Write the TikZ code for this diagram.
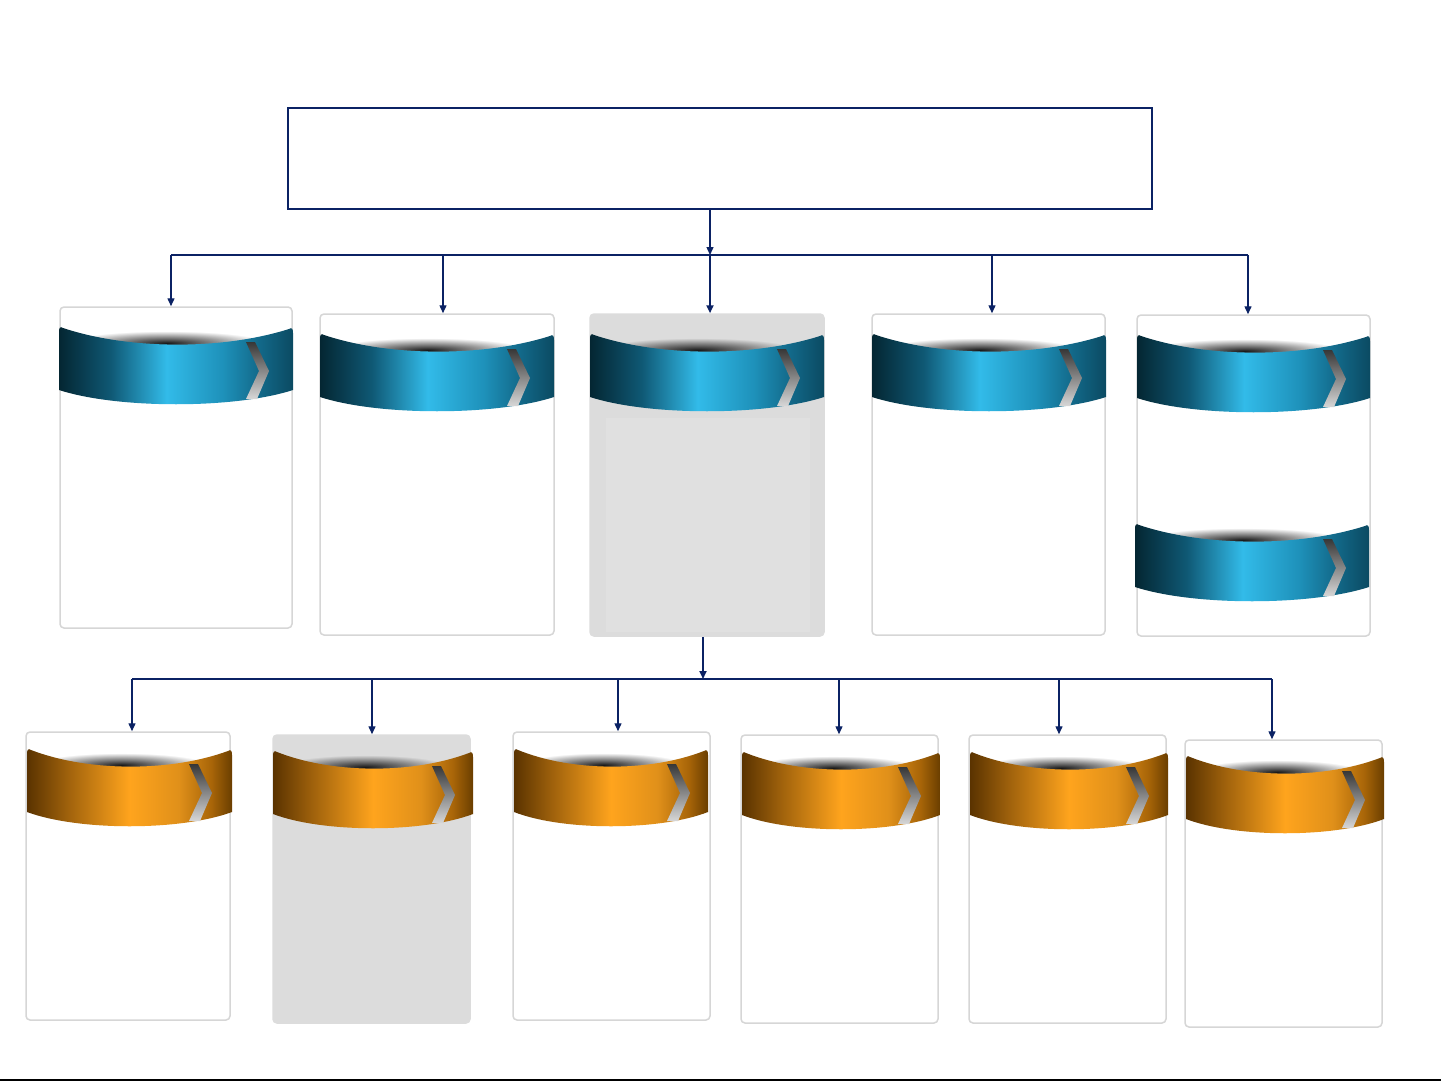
\documentclass[tikz,border=0pt]{standalone}
\usetikzlibrary{arrows.meta,fit,fadings,calc}
\definecolor{navy}{RGB}{11,34,100}
\definecolor{cardgray}{RGB}{220,220,220}
\definecolor{innergray}{RGB}{224,224,224}
\definecolor{cardline}{RGB}{214,214,214}
\definecolor{bl0}{RGB}{4,38,50}
\definecolor{bl1}{RGB}{15,88,116}
\definecolor{bl2}{RGB}{50,187,233}
\definecolor{bl3}{RGB}{30,145,186}
\definecolor{bl4}{RGB}{18,104,136}
\definecolor{bl5}{RGB}{11,74,98}
\definecolor{or0}{RGB}{90,51,0}
\definecolor{or1}{RGB}{160,98,12}
\definecolor{or2}{RGB}{255,164,29}
\definecolor{or3}{RGB}{224,144,26}
\definecolor{or4}{RGB}{168,101,8}
\definecolor{or5}{RGB}{106,62,0}
\definecolor{cvtop}{RGB}{55,55,55}
\definecolor{cvbot}{RGB}{215,215,215}
\pgfdeclarehorizontalshading{bluerib}{100bp}{color(0bp)=(bl0); color(25bp)=(bl0); color(36bp)=(bl1); color(48bp)=(bl2); color(60bp)=(bl3); color(68bp)=(bl4); color(75bp)=(bl5); color(100bp)=(bl5)}
\pgfdeclarehorizontalshading{orangerib}{100bp}{color(0bp)=(or0); color(25bp)=(or0); color(35bp)=(or1); color(50bp)=(or2); color(62bp)=(or3); color(70bp)=(or4); color(75bp)=(or5); color(100bp)=(or5)}
\tikzfading[name=shfade, inner color=transparent!0, outer color=transparent!100]
\tikzset{
  card/.style={draw=cardline, line width=0.75pt, rounded corners=2pt, fill=white, inner sep=0pt},
  graycard/.style={card, fill=cardgray, draw=cardgray},
  topbox/.style={draw=navy, line width=1.25pt, fill=white, inner sep=0pt},
  conn/.style={draw=navy, line width=0.7pt},
  busb/.style={draw=navy, line width=0.9pt},
  arr/.style={-{Triangle[length=4pt,width=3.5pt]}},
}
% L R t shading chevron-offset
\newcommand\myrib[5]{%
  \pgfmathsetmacro\rw{#2-#1}%
  \pgfmathsetmacro\rx{0.21*\rw}%
  \fill[black!90, path fading=shfade] ({#1+0.46*\rw},{#3+17}) ellipse [x radius=\rx pt, y radius=6pt];
  \path[shading=#4] (#1,{#3+6}) .. controls (#1,{#3+2}) and ({#1+1},{#3}) .. ({#1+4},{#3+2})
     .. controls ({#1+0.3*\rw},{#3+24}) and ({#2-0.3*\rw},{#3+24}) .. ({#2-4},{#3+3})
     .. controls ({#2-1},{#3+1}) and (#2,{#3+3}) .. (#2,{#3+7})
     -- (#2,{#3+64})
     .. controls ({#2-0.25*\rw},{#3+83}) and ({#1+0.25*\rw},{#3+83}) .. (#1,{#3+64}) -- cycle;
  \shade[top color=cvtop, bottom color=cvbot] ({#2-#5},{#3+16}) -- ({#2-#5+9},{#3+16}) -- ({#2-#5+23},{#3+45})
     -- ({#2-#5+11},{#3+73}) -- ({#2-#5},{#3+73}) -- ({#2-#5+13},{#3+45}) -- cycle;
}
\begin{document}
\begin{tikzpicture}[x=0.5pt,y=-0.5pt]
\fill[white] (0,0) rectangle (1441,1081);
\useasboundingbox (0,0) rectangle (1441,1081);

% top box
\node[topbox, fit={(288,108) (1152,209)}] (top) {};

% top row cards
\node[card, fit={(60,307) (292,628)}] (c1) {};
\node[card, fit={(320,314) (554,635)}] (c2) {};
\node[graycard, fit={(590,314) (824,636)}] (c3) {};
\node[card, fit={(872,314) (1105,635)}] (c4) {};
\node[card, fit={(1137,315) (1370,636)}] (c5) {};
\fill[innergray] (606,418) rectangle (810,632);

% bottom row cards
\node[card, fit={(26,732) (230,1020)}] (d1) {};
\node[graycard, fit={(273,735) (470,1023)}] (d2) {};
\node[card, fit={(513,732) (710,1020)}] (d3) {};
\node[card, fit={(741,735) (938,1023)}] (d4) {};
\node[card, fit={(969,735) (1166,1023)}] (d5) {};
\node[card, fit={(1185,740) (1382,1027)}] (d6) {};

% ribbons top row
\myrib{59}{293}{326}{bluerib}{47}
\myrib{320}{554}{333}{bluerib}{47}
\myrib{590}{824}{333}{bluerib}{47}
\myrib{872}{1106}{333}{bluerib}{47}
\myrib{1137}{1370}{334}{bluerib}{47}
\myrib{1135}{1369}{523}{bluerib}{46}

% ribbons bottom row
\myrib{27}{232}{748}{orangerib}{43}
\myrib{273}{473}{750}{orangerib}{41}
\myrib{514}{708}{748}{orangerib}{41}
\myrib{742}{940}{751}{orangerib}{42}
\myrib{970}{1168}{751}{orangerib}{42}
\myrib{1186}{1384}{755}{orangerib}{42}

% top connectors
\coordinate (j0) at (710,255);
\coordinate (b1) at (171,255);
\coordinate (b2) at (443,255);
\coordinate (b4) at (992,255);
\coordinate (b5) at (1248,255);
\draw[conn, arr] (top.south -| j0) -- (j0);
\draw[conn] (b1) -- (b5);
\draw[conn, arr] (b1) -- (b1 |- c1.north);
\draw[conn, arr] (b2) -- (b2 |- c2.north);
\draw[navy, line width=1.25pt, arr] (j0) -- (j0 |- c3.north);
\draw[conn, arr] (b4) -- (b4 |- c4.north);
\draw[conn, arr] (b5) -- (b5 |- c5.north);

% bottom connectors
\coordinate (k0) at (703,679);
\coordinate (e1) at (132,679);
\coordinate (e2) at (372,679);
\coordinate (e3) at (618,679);
\coordinate (e4) at (839,679);
\coordinate (e5) at (1059,679);
\coordinate (e6) at (1272,679);
\draw[busb, arr] (c3.south -| k0) -- (k0);
\draw[busb] (e1) -- (e6);
\draw[conn, arr] (e1) -- (e1 |- d1.north);
\draw[conn, arr] (e2) -- (e2 |- d2.north);
\draw[conn, arr] (e3) -- (e3 |- d3.north);
\draw[conn, arr] (e4) -- (e4 |- d4.north);
\draw[conn, arr] (e5) -- (e5 |- d5.north);
\draw[conn, arr] (e6) -- (e6 |- d6.north);

% bottom rule
\fill[black] (0,1078.8) rectangle (1441,1081);
\end{tikzpicture}
\end{document}
